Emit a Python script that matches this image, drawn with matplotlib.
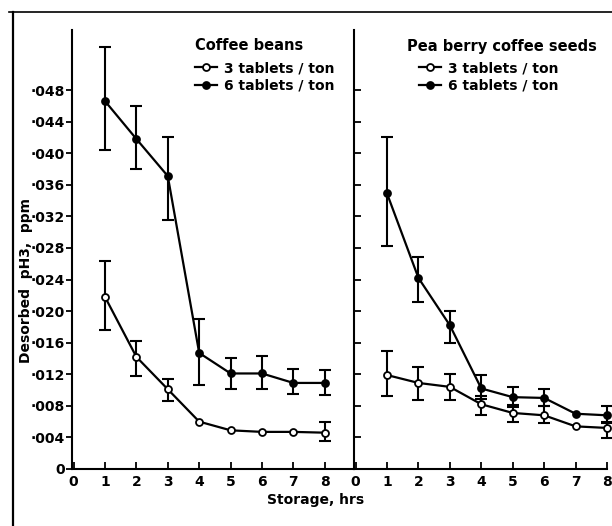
import matplotlib
matplotlib.use('Agg')
import matplotlib.pyplot as plt
from matplotlib.lines import Line2D

hours = [1, 2, 3, 4, 5, 6, 7, 8]

# coffee beans, desorbed PH3 (ppm)
beans_3 = [0.0218, 0.0142, 0.0101, 0.0060, 0.0049, 0.0047, 0.0047, 0.0046]
beans_3_lo = [0.0176, 0.0118, 0.0086, None, None, None, None, 0.0036]
beans_3_hi = [0.0263, 0.0162, 0.0114, None, None, None, None, 0.0059]
beans_6 = [0.0466, 0.0418, 0.0371, 0.0147, 0.0121, 0.0121, 0.0109, 0.0109]
beans_6_lo = [0.0404, 0.0380, 0.0315, 0.0107, 0.0101, 0.0101, 0.0095, 0.0094]
beans_6_hi = [0.0535, 0.0460, 0.0420, 0.0190, 0.0140, 0.0143, 0.0127, 0.0125]

# pea berry coffee seeds
pea_3 = [0.0119, 0.0109, 0.0104, 0.0082, 0.0071, 0.0068, 0.0054, 0.0052]
pea_3_lo = [0.0092, 0.0087, 0.0087, 0.0068, 0.0059, 0.0058, None, 0.0039]
pea_3_hi = [0.0149, 0.0129, 0.0120, 0.0093, 0.0081, 0.0080, None, 0.0060]
pea_6 = [0.0349, 0.0242, 0.0182, 0.0102, 0.0091, 0.0090, 0.0070, 0.0068]
pea_6_lo = [0.0282, 0.0211, 0.0160, 0.0089, 0.0079, 0.0080, None, 0.0058]
pea_6_hi = [0.0421, 0.0268, 0.0200, 0.0119, 0.0104, 0.0101, None, 0.0080]

yticks = [0, 0.004, 0.008, 0.012, 0.016, 0.020, 0.024, 0.028, 0.032, 0.036,
          0.040, 0.044, 0.048]
ytick_labels = ['0', '·004', '·008', '·012', '·016', '·020', '·024', '·028',
                '·032', '·036', '·040', '·044', '·048']

plt.rcParams['font.family'] = 'DejaVu Sans'
plt.rcParams['font.weight'] = 'bold'

fig = plt.figure(figsize=(6.12, 5.26), dpi=100)
W, H = 612.0, 526.0
ax1 = fig.add_axes([72 / W, 1 - 469 / H, (354 - 72) / W, (469 - 30) / H])
ax2 = fig.add_axes([354 / W, 1 - 469 / H, (607 - 354) / W, (469 - 30) / H])


def draw_series(ax, y, lo, hi, face):
    ax.plot(hours, y, color='black', linewidth=1.6, marker='o', markersize=5,
            markerfacecolor=face, markeredgecolor='black', markeredgewidth=1.3,
            zorder=3, clip_on=False)
    xs = [h for h, l in zip(hours, lo) if l is not None]
    ys = [v for v, l in zip(y, lo) if l is not None]
    lows = [v - l for v, l in zip(y, lo) if l is not None]
    highs = [h - v for v, h in zip(y, hi) if h is not None]
    eb = ax.errorbar(xs, ys, yerr=[lows, highs], fmt='none', ecolor='black',
                     elinewidth=1.5, capsize=4, capthick=1.5, zorder=2)
    for art in eb.lines[1] + eb.lines[2]:
        art.set_clip_on(False)


draw_series(ax1, beans_3, beans_3_lo, beans_3_hi, 'white')
draw_series(ax1, beans_6, beans_6_lo, beans_6_hi, 'black')
draw_series(ax2, pea_3, pea_3_lo, pea_3_hi, 'white')
draw_series(ax2, pea_6, pea_6_lo, pea_6_hi, 'black')

for ax in (ax1, ax2):
    ax.set_ylim(0, 0.0556)
    ax.set_yticks(yticks)
    ax.set_xticks(range(0, 9))
    ax.set_xticklabels([str(i) for i in range(0, 9)], fontsize=10,
                       fontweight='bold')
    ax.spines['top'].set_visible(False)
    ax.spines['right'].set_visible(False)
    ax.spines['left'].set_linewidth(1.5)
    ax.spines['bottom'].set_linewidth(1.5)
    ax.tick_params(axis='x', direction='in', length=5, width=1.3, pad=4)

ax1.set_xlim(-0.05, 8.93)
ax2.set_xlim(-0.05, 8.0)

ax1.set_yticklabels(ytick_labels, fontsize=10, fontweight='bold')
ax1.tick_params(axis='y', direction='out', length=4, width=1.3, pad=1)
ax2.set_yticklabels([])
ax2.tick_params(axis='y', direction='in', length=5, width=1.3)

ax1.set_ylabel('Desorbed  pH3,  ppm', fontsize=10, fontweight='bold')
ax1.yaxis.set_label_coords(-0.14, 0.43)
fig.text(316 / W, 1 - 500 / H, 'Storage, hrs', fontsize=10,
         fontweight='bold', ha='center', va='center')

handles = [
    Line2D([], [], color='black', linewidth=1.6, marker='o', markersize=5,
           markerfacecolor='white', markeredgewidth=1.3),
    Line2D([], [], color='black', linewidth=1.6, marker='o', markersize=5,
           markerfacecolor='black', markeredgewidth=1.3),
]
names = ['3 tablets / ton', '6 tablets / ton']
leg_kw = dict(frameon=False, loc='upper left', bbox_transform=fig.transFigure,
              handlelength=1.6, handletextpad=0.5, labelspacing=0.25,
              borderpad=0, borderaxespad=0,
              prop={'size': 10, 'weight': 'bold'})

# panel titles
fig.text(195 / W, 1 - 46 / H, 'Coffee beans', fontsize=10.5,
         fontweight='bold', ha='left', va='center')
fig.text(407 / W, 1 - 46 / H, 'Pea berry coffee seeds', fontsize=10.5,
         fontweight='bold', ha='left', va='center')

ax1.legend(handles, names, bbox_to_anchor=(195 / W, 1 - 61 / H), **leg_kw)
ax2.legend(handles, names, bbox_to_anchor=(419 / W, 1 - 61 / H), **leg_kw)

# thin frame round the whole figure (top and left edges)
fig.add_artist(Line2D([9 / W, 1.0], [1 - 11.5 / H, 1 - 11.5 / H],
                      transform=fig.transFigure, color='black', linewidth=1.2))
fig.add_artist(Line2D([12.5 / W, 12.5 / W], [0, 1 - 11.5 / H],
                      transform=fig.transFigure, color='black', linewidth=1.6))

fig.savefig('out.png', dpi=100)
